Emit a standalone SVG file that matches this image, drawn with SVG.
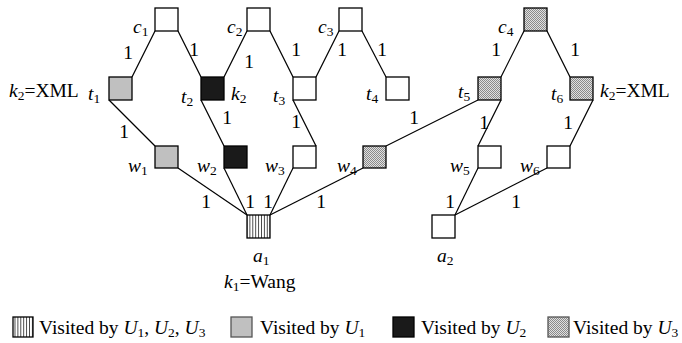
<svg xmlns="http://www.w3.org/2000/svg" width="682" height="343" viewBox="0 0 682 343">
<defs>
<pattern id="stripes" width="2.9" height="4" patternUnits="userSpaceOnUse">
<rect width="2.9" height="4" fill="#fff"/>
<rect x="0" width="0.8" height="4" fill="#222"/>
</pattern>
<pattern id="dots" width="2" height="2" patternUnits="userSpaceOnUse">
<rect width="2" height="2" fill="#e0e0e0"/>
<rect width="1" height="1" fill="#8a8a8a"/>
<rect x="1" y="1" width="1" height="1" fill="#8a8a8a"/>
</pattern>
<style>
.n{stroke:#000;stroke-width:1.3}
.w{fill:#fff}
.g{fill:#c0c0c0}
.b{fill:#1a1a1a}
.d{fill:url(#dots)}
.s{fill:url(#stripes)}
text{font-size:19.5px;fill:#000}
.e{text-anchor:middle}
.i{font-style:italic}
.sub{font-size:13.5px;font-style:normal}
#edges line{stroke:#000;stroke-width:1.2}
</style>
</defs>
<g font-family="Liberation Serif, DejaVu Serif, serif">
<g id="edges">
<line x1="155" y1="31" x2="132" y2="77"/>
<line x1="178" y1="31" x2="201" y2="77"/>
<line x1="247" y1="31" x2="224" y2="77"/>
<line x1="270" y1="31" x2="293" y2="77"/>
<line x1="339" y1="31" x2="316" y2="77"/>
<line x1="362" y1="31" x2="386" y2="77"/>
<line x1="524" y1="31" x2="501" y2="77"/>
<line x1="547" y1="31" x2="570" y2="77"/>
<line x1="109" y1="100" x2="155" y2="146"/>
<line x1="201" y1="100" x2="224" y2="146"/>
<line x1="293" y1="100" x2="316" y2="146"/>
<line x1="478" y1="100" x2="386" y2="146"/>
<line x1="501" y1="100" x2="478" y2="146"/>
<line x1="593" y1="100" x2="570" y2="146"/>
<line x1="178" y1="168" x2="247" y2="215"/>
<line x1="224" y1="168" x2="247" y2="215"/>
<line x1="293" y1="168" x2="270" y2="215"/>
<line x1="363" y1="168" x2="270" y2="215"/>
<line x1="478" y1="168" x2="455" y2="215"/>
<line x1="547" y1="168" x2="455" y2="215"/>
<text class="e" x="128" y="59">1</text>
<text class="e" x="194" y="56">1</text>
<text class="e" x="249" y="68">1</text>
<text class="e" x="296" y="56">1</text>
<text class="e" x="342" y="56">1</text>
<text class="e" x="382" y="56">1</text>
<text class="e" x="124" y="138">1</text>
<text class="e" x="227" y="124">1</text>
<text class="e" x="296" y="128">1</text>
<text class="e" x="496" y="56">1</text>
<text class="e" x="575" y="56">1</text>
<text class="e" x="414" y="124">1</text>
<text class="e" x="484" y="129">1</text>
<text class="e" x="568" y="129">1</text>
<text class="e" x="206" y="208">1</text>
<text class="e" x="250" y="208">1</text>
<text class="e" x="268" y="208">1</text>
<text class="e" x="321" y="208">1</text>
<text class="e" x="450" y="208">1</text>
<text class="e" x="516" y="208">1</text>
</g>
<g id="c1"><rect class="n w" x="155" y="8" width="23" height="23"/><text class="i" x="133" y="33">c<tspan class="sub" dy="3">1</tspan></text></g>
<g id="c2"><rect class="n w" x="247" y="8" width="23" height="23"/><text class="i" x="227" y="33">c<tspan class="sub" dy="3">2</tspan></text></g>
<g id="c3"><rect class="n w" x="339" y="8" width="23" height="23"/><text class="i" x="318" y="33">c<tspan class="sub" dy="3">3</tspan></text></g>
<g id="c4"><rect class="n d" x="524" y="8" width="23" height="23"/><text class="i" x="498" y="33">c<tspan class="sub" dy="3">4</tspan></text></g>
<g id="t1"><rect class="n g" x="109" y="77" width="23" height="23"/><text class="i" x="88" y="100">t<tspan class="sub" dy="3">1</tspan></text><text x="9" y="97"><tspan class="i">k</tspan><tspan class="sub" dy="3">2</tspan><tspan dy="-3">=XML</tspan></text></g>
<g id="t2"><rect class="n b" x="201" y="77" width="23" height="23"/><text class="i" x="181" y="103">t<tspan class="sub" dy="3">2</tspan></text><text class="i" x="231" y="100">k<tspan class="sub" dy="3">2</tspan></text></g>
<g id="t3"><rect class="n w" x="293" y="77" width="23" height="23"/><text class="i" x="273" y="102">t<tspan class="sub" dy="3">3</tspan></text></g>
<g id="t4"><rect class="n w" x="386" y="77" width="23" height="23"/><text class="i" x="366" y="100">t<tspan class="sub" dy="3">4</tspan></text></g>
<g id="t5"><rect class="n d" x="478" y="77" width="23" height="23"/><text class="i" x="458" y="98">t<tspan class="sub" dy="3">5</tspan></text></g>
<g id="t6"><rect class="n d" x="570" y="77" width="23" height="23"/><text class="i" x="551" y="100">t<tspan class="sub" dy="3">6</tspan></text><text x="600" y="97"><tspan class="i">k</tspan><tspan class="sub" dy="3">2</tspan><tspan dy="-3">=XML</tspan></text></g>
<g id="w1"><rect class="n g" x="155" y="146" width="23" height="22"/><text class="i" x="128" y="172">w<tspan class="sub" dy="3">1</tspan></text></g>
<g id="w2"><rect class="n b" x="224" y="146" width="23" height="22"/><text class="i" x="197" y="172">w<tspan class="sub" dy="3">2</tspan></text></g>
<g id="w3"><rect class="n w" x="293" y="146" width="23" height="22"/><text class="i" x="265" y="172">w<tspan class="sub" dy="3">3</tspan></text></g>
<g id="w4"><rect class="n d" x="363" y="146" width="23" height="22"/><text class="i" x="337" y="172">w<tspan class="sub" dy="3">4</tspan></text></g>
<g id="w5"><rect class="n w" x="478" y="146" width="23" height="22"/><text class="i" x="450" y="172">w<tspan class="sub" dy="3">5</tspan></text></g>
<g id="w6"><rect class="n w" x="547" y="146" width="23" height="22"/><text class="i" x="520" y="172">w<tspan class="sub" dy="3">6</tspan></text></g>
<g id="a1"><rect class="n s" x="247" y="215" width="23" height="23"/><text class="i" x="253" y="262">a<tspan class="sub" dy="3">1</tspan></text><text x="224" y="288"><tspan class="i">k</tspan><tspan class="sub" dy="3">1</tspan><tspan dy="-3">=Wang</tspan></text></g>
<g id="a2"><rect class="n w" x="432" y="215" width="23" height="23"/><text class="i" x="437" y="262">a<tspan class="sub" dy="3">2</tspan></text></g>
<g id="legend">
<rect class="n s" x="13" y="317" width="20" height="20"/>
<text x="39" y="334">Visited by <tspan class="i">U</tspan><tspan class="sub" dy="3">1</tspan><tspan dy="-3">, </tspan><tspan class="i">U</tspan><tspan class="sub" dy="3">2</tspan><tspan dy="-3">, </tspan><tspan class="i">U</tspan><tspan class="sub" dy="3">3</tspan></text>
<rect class="g" x="231" y="317" width="21" height="20" stroke="#555" stroke-width="1.3"/>
<text x="260" y="334">Visited by <tspan class="i">U</tspan><tspan class="sub" dy="3">1</tspan></text>
<rect class="n b" x="393" y="317" width="21" height="20"/>
<text x="421" y="334">Visited by <tspan class="i">U</tspan><tspan class="sub" dy="3">2</tspan></text>
<rect class="d" x="548" y="317" width="21" height="20" stroke="#555" stroke-width="1.3"/>
<text x="573" y="334">Visited by <tspan class="i">U</tspan><tspan class="sub" dy="3">3</tspan></text>
</g>
</g>
</svg>
